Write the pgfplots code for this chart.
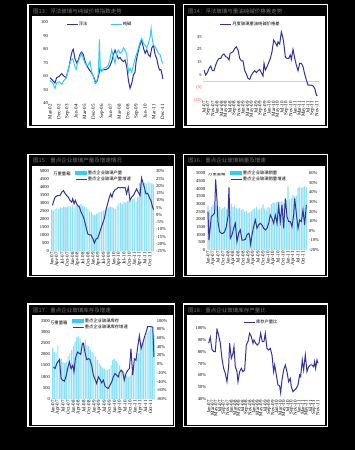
\documentclass[border=0pt]{standalone}
\usepackage{fontspec}
\setmainfont{Liberation Serif}
\newfontfamily\cjk{Noto Sans CJK SC}
\usepackage{pgfplots}
\pgfplotsset{compat=1.18}
\definecolor{navy}{RGB}{51,51,153}
\definecolor{cyanl}{RGB}{51,204,255}
\definecolor{barc}{RGB}{140,224,248}
\definecolor{ttl}{RGB}{120,120,120}
\definecolor{negred}{RGB}{255,70,70}
\pgfplotsset{
 base/.style={scale only axis, anchor=south west, axis line style={draw=none}, major tick length=0pt, enlargelimits=false,
   yticklabel style={font=\fontsize{4.5}{5}\selectfont, inner sep=1pt},
   xticklabel style={font=\fontsize{5}{5}\selectfont, inner sep=1pt, rotate=90, anchor=east},
   /pgf/number format/assume math mode=true,
   /pgf/number format/1000 sep={},
   legend style={draw=none, fill=none, font=\cjk\fontsize{4.3}{4.5}\selectfont, inner sep=0pt, legend cell align=left, nodes={inner sep=0.7pt}},
 },
 lineleg/.style={legend image code/.code={\draw (0pt,0pt) -- (11pt,0pt);}},
 barleg/.style={legend image code/.code={\fill[cyanl] (0pt,-1.4pt) rectangle (11pt,1.4pt);}},
 qlabels/.style={xtick={0,3,...,57}, xticklabels={Jan-07,Apr-07,Jul-07,Oct-07,Jan-08,Apr-08,Jul-08,Oct-08,Jan-09,Apr-09,Jul-09,Oct-09,Jan-10,Apr-10,Jul-10,Oct-10,Jan-11,Apr-11,Jul-11,Oct-11}},
}
\begin{document}
\begin{tikzpicture}[x=1pt,y=1pt]
\fill[black] (0,0) rectangle (355,450);
% frames
\foreach \xa/\xb/\xc/\xd/\xe/\xf in {27/175/28.5/173.5/32/172.5, 182.5/328/184/326.5/187/325}{
  \fill[white] (\xa,446) rectangle (\xb,322);
  \fill[black] (\xc,444.5) rectangle (\xd,323.5);
  \fill[white] (\xe,433.5) rectangle (\xf,324.5);
  \fill[white] (\xa,296) rectangle (\xb,172.5);
  \fill[black] (\xc,294.5) rectangle (\xd,174);
  \fill[white] (\xe,284) rectangle (\xf,175);
  \fill[white] (\xa,146.5) rectangle (\xb,22.5);
  \fill[black] (\xc,145) rectangle (\xd,24);
  \fill[white] (\xe,134.5) rectangle (\xf,25);
}
\begin{scope}[every node/.style={font=\cjk\fontsize{5.5}{6}\selectfont, text=ttl, anchor=west, inner sep=0pt}]
\node at (33,439) {图13：浮法玻璃与纯碱价格指数走势};
\node at (188,439) {图14：浮法玻璃与重油纯碱价格差走势};
\node at (33,289.5) {图15：重点企业玻璃产量及增速情况};
\node at (188,289.5) {图16：重点企业玻璃销量及增速};
\node at (33,140) {图17：重点企业玻璃库存及增速};
\node at (188,140) {图18：重点企业玻璃库存产量比};
\end{scope}

% ---------- TL ----------
\begin{axis}[base, at={(49pt,346.7pt)}, width=114.9pt, height=81pt, xmin=-1, xmax=118.5, ymin=40, ymax=100,
  ytick={40,50,...,100}, xtick={0,9,...,117},
  xticklabels={Mar-02,Dec-02,Sep-03,Jun-04,Mar-05,Dec-05,Sep-06,Jun-07,Mar-08,Dec-08,Sep-09,Jun-10,Mar-11,Dec-11},
  legend columns=2, legend style={at={(0.148,0.975)}, anchor=west, /tikz/every even column/.append style={column sep=22pt}}]
\addplot[navy, line width=1pt, lineleg] coordinates {(0,59) (2.8,57) (5.2,55) (6.9,59) (9.7,60) (12.2,62) (14.6,60) (16.7,59) (18.4,63) (20.1,68) (21.9,75) (23.3,79) (24.3,80) (26,73) (27.8,70) (29.5,72) (31.3,76.5) (33,78) (34.7,76) (36.5,71) (38.2,68) (39.9,66) (41.7,64) (43.8,62) (45.8,59) (47.6,55) (49.3,57) (51,62) (52.1,66) (53.8,64) (55.6,65) (58.3,65) (60.8,66) (62.5,68) (64.2,71) (66,76) (67.7,79.5) (69.4,76) (71.2,73) (72.9,74) (74.6,72) (76.4,71) (78.1,72) (79.9,67) (81.6,57) (83.3,51) (85.1,55) (86.8,61) (88.5,63) (89.6,71) (91,76) (93,82) (95.5,87) (97.2,81) (99,77) (100.7,79.5) (102.4,76) (104.2,74.5) (105.9,81) (107.6,83) (109.4,76) (111.1,73) (112.8,67) (113.9,64.7) (115.3,65) (116.7,61) (117.4,58)};
\addlegendentry{浮法}
\addplot[cyanl, line width=1pt, lineleg] coordinates {(0,57) (2.8,55) (5.2,51) (6.9,55) (9.7,56) (12.2,54) (14.6,57) (16.7,58.5) (18.4,63) (20.1,68) (21.9,72) (23.6,73) (25,69.6) (27.1,65) (28.8,69.6) (31.3,74.6) (33,77) (34.7,73) (36.5,69.6) (38.2,68) (39.9,68.4) (41.7,71) (43.4,63) (45.1,60) (46.9,55) (48.6,56) (50.3,62) (51.4,87.4) (52.4,64.7) (53.8,63.5) (56.3,66) (59,67) (60.8,68.4) (62.5,73) (64.2,79.5) (66,74.6) (67.7,69.6) (69.4,77) (71.2,79.5) (72.9,77) (74.6,78) (76.4,81) (78.1,79.5) (79.9,76) (81.6,63) (83.3,66) (85.1,63) (86.8,68) (88.5,73) (90.3,77) (92,81) (93.8,85.7) (95.5,88) (97.2,84.4) (99,83) (100.7,81) (102.4,84.4) (104.2,89.4) (105.2,95.5) (106.3,88) (107.6,83) (109.4,82) (111.1,79.5) (112.8,77) (114.6,76) (116.3,71) (117.4,69.6)};
\addlegendentry{纯碱}
\end{axis}

% ---------- TR ----------
\begin{axis}[base, at={(202.7pt,350pt)}, width=116pt, height=69.6pt, xmin=74, xmax=422, ymin=-15, ymax=40,
  ytick={-15,-5,5,15,25,35}, yticklabels={{\color{negred}(15)},{\color{negred}(5)},5,15,25,35},
  xtick={78,91,...,417},
  xticklabels={Jul-07,Sep-07,Nov-07,Jan-08,Mar-08,May-08,Jul-08,Sep-08,Nov-08,Jan-09,Mar-09,May-09,Jul-09,Sep-09,Nov-09,Jan-10,Mar-10,May-10,Jul-10,Sep-10,Nov-10,Jan-11,Mar-11,May-11,Jul-11,Sep-11,Nov-11},
  extra y ticks={0}, extra y tick labels={}, extra y tick style={ymajorgrids=true, major grid style={gray!35, line width=0.4pt}},
  legend style={at={(0.145,1.088)}, anchor=west}]
\addplot[navy, line width=1pt, lineleg] coordinates {(78,8.7) (83,4.7) (88,6.6) (93,10) (98,11.8) (103,8.2) (108,8.2) (113,12.6) (118,16) (123,17.9) (128,17.9) (133,20.5) (138,21.3) (143,19.2) (148,18.7) (153,16.6) (156,21.8) (160,22.4) (165,23.2) (170,25.8) (175,27.1) (180,24.5) (185,17.9) (190,16) (195,16) (200,8.2) (205,5.5) (210,2.1) (215,1.3) (220,4.7) (225,6.6) (230,8.2) (235,6.6) (240,8.2) (245,9.2) (250,6.6) (255,4) (258,14) (262,8.7) (267,11.3) (272,14.5) (277,17.9) (282,23.2) (287,32.4) (292,30.3) (297,27.6) (300,31) (305,29.2) (310,38.9) (315,33.7) (318,28.4) (322,18.7) (327,17.9) (332,17.9) (337,20.5) (340,17.1) (345,25) (350,17.9) (355,12.6) (360,8.2) (365,14) (370,14) (375,11.3) (380,5.5) (385,0.8) (390,-3.2) (395,-3.2) (400,-3.2) (405,-3.9) (410,-5.8) (415,-11) (418,-11.8)};
\addlegendentry{月度玻璃重油纯碱价格差}
\end{axis}

% ---------- ML ----------
\begin{axis}[base, at={(50pt,198.7pt)}, width=105pt, height=79.8pt, xmin=-1, xmax=60, ymin=0, ymax=5000,
  ytick={0,500,...,5000}, qlabels]
\addplot[ybar, bar width=1.1pt, fill=barc, draw=none] table[x expr=\coordindex, y=v, row sep=\\] {v\\
2600\\2550\\2650\\2700\\2650\\2750\\2700\\2800\\2750\\2800\\2850\\2800\\
2900\\2750\\2850\\2950\\2900\\2950\\2850\\2800\\2750\\2650\\2550\\2450\\
2300\\2250\\2350\\2400\\2450\\2500\\2550\\2600\\2650\\2750\\2800\\2750\\
2700\\2650\\2850\\3000\\3050\\2950\\3100\\3050\\3150\\3200\\3150\\3250\\
3300\\3100\\3400\\4300\\4350\\4250\\4300\\4250\\4350\\4300\\4250\\4200\\};
\node[font=\cjk\fontsize{4.3}{4.5}\selectfont, anchor=west, inner sep=0pt] at (axis description cs:0.03,0.969) {万重量箱};
\end{axis}
\begin{axis}[base, at={(50pt,198.7pt)}, width=105pt, height=79.8pt, xmin=-1, xmax=60, ymin=-25, ymax=30,
  ytick={-25,-20,...,30}, yticklabels={-25\%,-20\%,-15\%,-10\%,-5\%,0\%,5\%,10\%,15\%,20\%,25\%,30\%},
  yticklabel pos=right, xtick=\empty,
  legend style={at={(0.238,1.025)}, anchor=north west}]
\addlegendimage{barleg}
\addlegendentry{重点企业玻璃产量}
\addplot[navy, line width=1pt, lineleg] coordinates {(0.4,6.7) (1.9,12.3) (3.3,13.4) (4.8,13.4) (5.8,15.7) (6.8,16.8) (7.7,15) (8.7,13.4) (9.7,12.3) (10.6,10) (11.6,8.9) (12.2,11.2) (13,7.8) (13.7,10) (14.9,6.7) (16.1,5.5) (17,2.1) (18,-0.1) (19,-3.5) (19.9,-8) (20.9,-13) (21.9,-13.7) (22.8,-13.7) (23.8,-16) (24.8,-19.3) (25.7,-16.6) (26.7,-16) (27.7,-12.6) (28.6,-9.2) (29.6,-5.8) (30.6,-2.4) (31.5,3.3) (32.5,7.8) (33.5,12.3) (34.2,14.6) (35,12.3) (35.8,15.7) (36.8,17.4) (37.7,18) (38.7,19.1) (39.7,18.7) (40.6,19.1) (41.6,18.7) (42.6,19.1) (43.5,14.6) (44.5,19.1) (45.5,10) (46.4,12.3) (47.4,13.4) (48.4,15.7) (49.3,18) (50.3,15.7) (51.3,13.4) (52.2,25.5) (52.8,23.2) (53.8,19.1) (54.7,14.6) (55.7,15) (56.7,12.3) (57.6,10) (58.6,5.5) (59.2,3.7)};
\addlegendentry{重点企业玻璃产量增速}
\end{axis}

% ---------- MR ----------
\begin{axis}[base, at={(206.3pt,200pt)}, width=101.7pt, height=76.7pt, xmin=-1, xmax=60, ymin=0, ymax=5000,
  ytick={0,500,...,5000}, qlabels]
\addplot[ybar, bar width=1.1pt, fill=barc, draw=none] table[x expr=\coordindex, y=v, row sep=\\] {v\\
2900\\2600\\2800\\2950\\3100\\2900\\2700\\2800\\2650\\2750\\2800\\2650\\
2700\\2500\\3000\\2800\\2900\\2750\\2700\\2750\\2600\\2650\\2500\\2550\\
2400\\2450\\2550\\2650\\2700\\2800\\2600\\2650\\2750\\2950\\2700\\2600\\
2800\\2750\\3000\\3100\\3050\\3150\\3100\\3150\\3200\\3100\\3050\\3250\\
4150\\3300\\3400\\3600\\3500\\3550\\4050\\4100\\4050\\4100\\4150\\4100\\};
\node[font=\cjk\fontsize{4.3}{4.5}\selectfont, anchor=west, inner sep=0pt] at (axis description cs:0.017,0.987) {万重量箱};
\end{axis}
\begin{axis}[base, at={(206.3pt,200pt)}, width=101.7pt, height=76.7pt, xmin=-1, xmax=60, ymin=-20, ymax=60,
  ytick={-20,-10,...,60}, yticklabels={-20\%,-10\%,0\%,10\%,20\%,30\%,40\%,50\%,60\%},
  yticklabel pos=right, xtick=\empty,
  legend style={at={(0.233,1.05)}, anchor=north west}]
\addlegendimage{barleg}
\addlegendentry{重点企业玻璃销量}
\addplot[navy, line width=1pt, lineleg] coordinates {(0,20) (0.6,-9.6) (1.4,4.3) (2,14.8) (3,16.5) (4,18.3) (4.6,53.7) (5.4,32.2) (6,9.6) (7,-0.9) (8,-2.6) (9,-2.6) (10,-0.9) (11,4.3) (12,14.8) (12.6,45.4) (13.4,-7.8) (14.4,-4.3) (15.4,2.6) (16.4,7.8) (17.4,-11.3) (18.4,-2.6) (19.4,0.9) (20.4,-9.6) (21.4,-9.6) (22.4,-8.9) (23.4,-4.3) (24.4,-2.6) (25,-5.4) (25.6,-14.1) (26.4,-4.3) (27.4,4.3) (28.4,11.3) (29.4,2.6) (30.4,6.1) (31.4,7.8) (32.4,6.1) (33.4,2.6) (34.4,0.9) (35.4,2.6) (36.4,7.8) (37.4,16.5) (38.4,13) (39.4,7.8) (40.4,16.5) (41.4,7.8) (42.4,25.9) (43.4,9.6) (44.4,27) (45.4,2.6) (46.4,33.9) (47.4,14.8) (48.4,9.6) (49.4,9.6) (50.4,4.3) (51.4,16.5) (52,33.9) (53,18.3) (54,2.6) (55,11.3) (56,9.6) (57,21.7) (58,6.1) (59,27)};
\addlegendentry{重点企业玻璃销量增速}
\end{axis}

% ---------- BL ----------
\begin{axis}[base, at={(51pt,51pt)}, width=104.7pt, height=78.3pt, xmin=-1, xmax=60, ymin=0, ymax=3500,
  ytick={0,500,...,3500}, qlabels]
\addplot[ybar, bar width=1.1pt, fill=barc, draw=none] table[x expr=\coordindex, y=v, row sep=\\] {v\\
2300\\2100\\2050\\2400\\1800\\1800\\1650\\1600\\1650\\1900\\2050\\2200\\
2350\\2550\\2750\\2800\\2700\\2550\\2500\\2650\\2400\\2350\\2200\\2100\\
2050\\1900\\1750\\1600\\1500\\1400\\1350\\1300\\1300\\1350\\1500\\1750\\
1800\\1700\\1600\\1500\\1350\\1250\\1150\\1050\\1000\\1050\\1200\\1450\\
1650\\1900\\2050\\2250\\2500\\2650\\2800\\2950\\3050\\3150\\3250\\2850\\};
\node[font=\cjk\fontsize{4.3}{4.5}\selectfont, anchor=west, inner sep=0pt] at (axis description cs:-0.01,0.974) {万重量箱};
\end{axis}
\begin{axis}[base, at={(51pt,51pt)}, width=104.7pt, height=78.3pt, xmin=-1, xmax=60, ymin=-80, ymax=100,
  ytick={-80,-60,...,100}, yticklabels={-80\%,-60\%,-40\%,-20\%,0\%,20\%,40\%,60\%,80\%,100\%},
  yticklabel pos=right, xtick=\empty,
  legend style={at={(0.2,1.04)}, anchor=north west}]
\addlegendimage{barleg}
\addlegendentry{重点企业玻璃库存}
\addplot[navy, line width=1pt, lineleg] coordinates {(0.4,-6.3) (1.4,-10) (2.3,1.3) (3.9,10.4) (4.9,-32.9) (5.8,-36.7) (6.8,-39) (7.8,-27.6) (8.7,-10) (9.7,5.1) (10.7,-10) (11.7,-2.5) (12.4,-17.7) (13.2,12.7) (14.4,27.9) (15.3,25.6) (16.3,22.6) (17.3,46.9) (17.9,48.4) (18.8,27.9) (19.8,10.4) (20.8,12.7) (21.7,10.4) (22.7,-2.5) (23.7,-25.3) (24.7,-35.2) (25.6,-44.3) (26.6,-29.1) (27.6,-35.2) (28.5,-42.8) (29.5,-36.7) (30.5,-50.3) (31.5,-54.1) (32.4,-55.7) (33.4,-48) (34.4,-40.5) (35.3,-29.1) (36.3,-21.5) (37.3,-25.3) (38.3,-29.1) (38.8,-20) (39.8,-13.9) (40.8,-17.7) (41.7,-36.7) (42.7,-21.5) (43.7,-13.9) (44.7,-10) (45.6,35.5) (46.6,-25.3) (47.6,12.7) (48.5,8.9) (49.5,39.3) (50.5,65.8) (51.5,35.5) (52.4,46.9) (53.4,62) (54.4,73.4) (55.3,86.3) (56.3,86.3) (57.3,86.3) (58.3,84.8) (59,16.5)};
\addlegendentry{重点企业玻璃库存增速}
\end{axis}

% ---------- BR ----------
\begin{axis}[base, at={(207.3pt,51pt)}, width=112pt, height=70.7pt, xmin=88, xmax=424, ymin=40, ymax=100,
  ytick={40,50,...,100}, yticklabels={40\%,50\%,60\%,70\%,80\%,90\%,100\%},
  xtick={92,103.3,...,421},
  xticklabels={Jan-07,Mar-07,May-07,Jul-07,Sep-07,Nov-07,Jan-08,Mar-08,May-08,Jul-08,Sep-08,Nov-08,Jan-09,Mar-09,May-09,Jul-09,Sep-09,Nov-09,Jan-10,Mar-10,May-10,Jul-10,Sep-10,Nov-10,Jan-11,Mar-11,May-11,Jul-11,Sep-11,Nov-11},
  legend style={at={(0.32,1.079)}, anchor=west}]
\addplot[navy, line width=1pt, lineleg] coordinates {(92,87.3) (97,92.4) (102,82.2) (107,80.2) (112,80.2) (117,99.2) (122,94.3) (127,87.3) (132,74.5) (137,66) (142,61.8) (147,54.7) (152,67.4) (155,87.3) (160,74.5) (165,78.8) (168,84.4) (172,67.4) (177,63.2) (180,54.7) (185,63.2) (190,66) (195,63.2) (200,64.6) (205,85.8) (210,88.7) (215,95.8) (220,92.9) (225,87.3) (228,90.1) (233,87.3) (238,85.8) (243,87.3) (248,95.8) (253,88.7) (258,88.7) (262,95.8) (267,83) (272,81.6) (277,83) (282,77.4) (287,63.2) (290,68.9) (295,60.4) (300,51.9) (305,51) (308,45.4) (312,56.1) (317,64.6) (322,68.9) (327,63.2) (332,54.7) (337,57.5) (340,50.5) (345,46.2) (350,47.6) (355,49) (360,51.9) (365,60.4) (368,59) (373,73.1) (377,64.6) (382,77.4) (387,63.2) (392,67.4) (397,68.9) (402,68.9) (407,67.4) (410,71.7) (413,66) (417,73.1) (420,70.3)};
\addlegendentry{库存产量比}
\end{axis}
\pgfresetboundingbox
\useasboundingbox (0,0) rectangle (355,450);
\end{tikzpicture}
\end{document}
